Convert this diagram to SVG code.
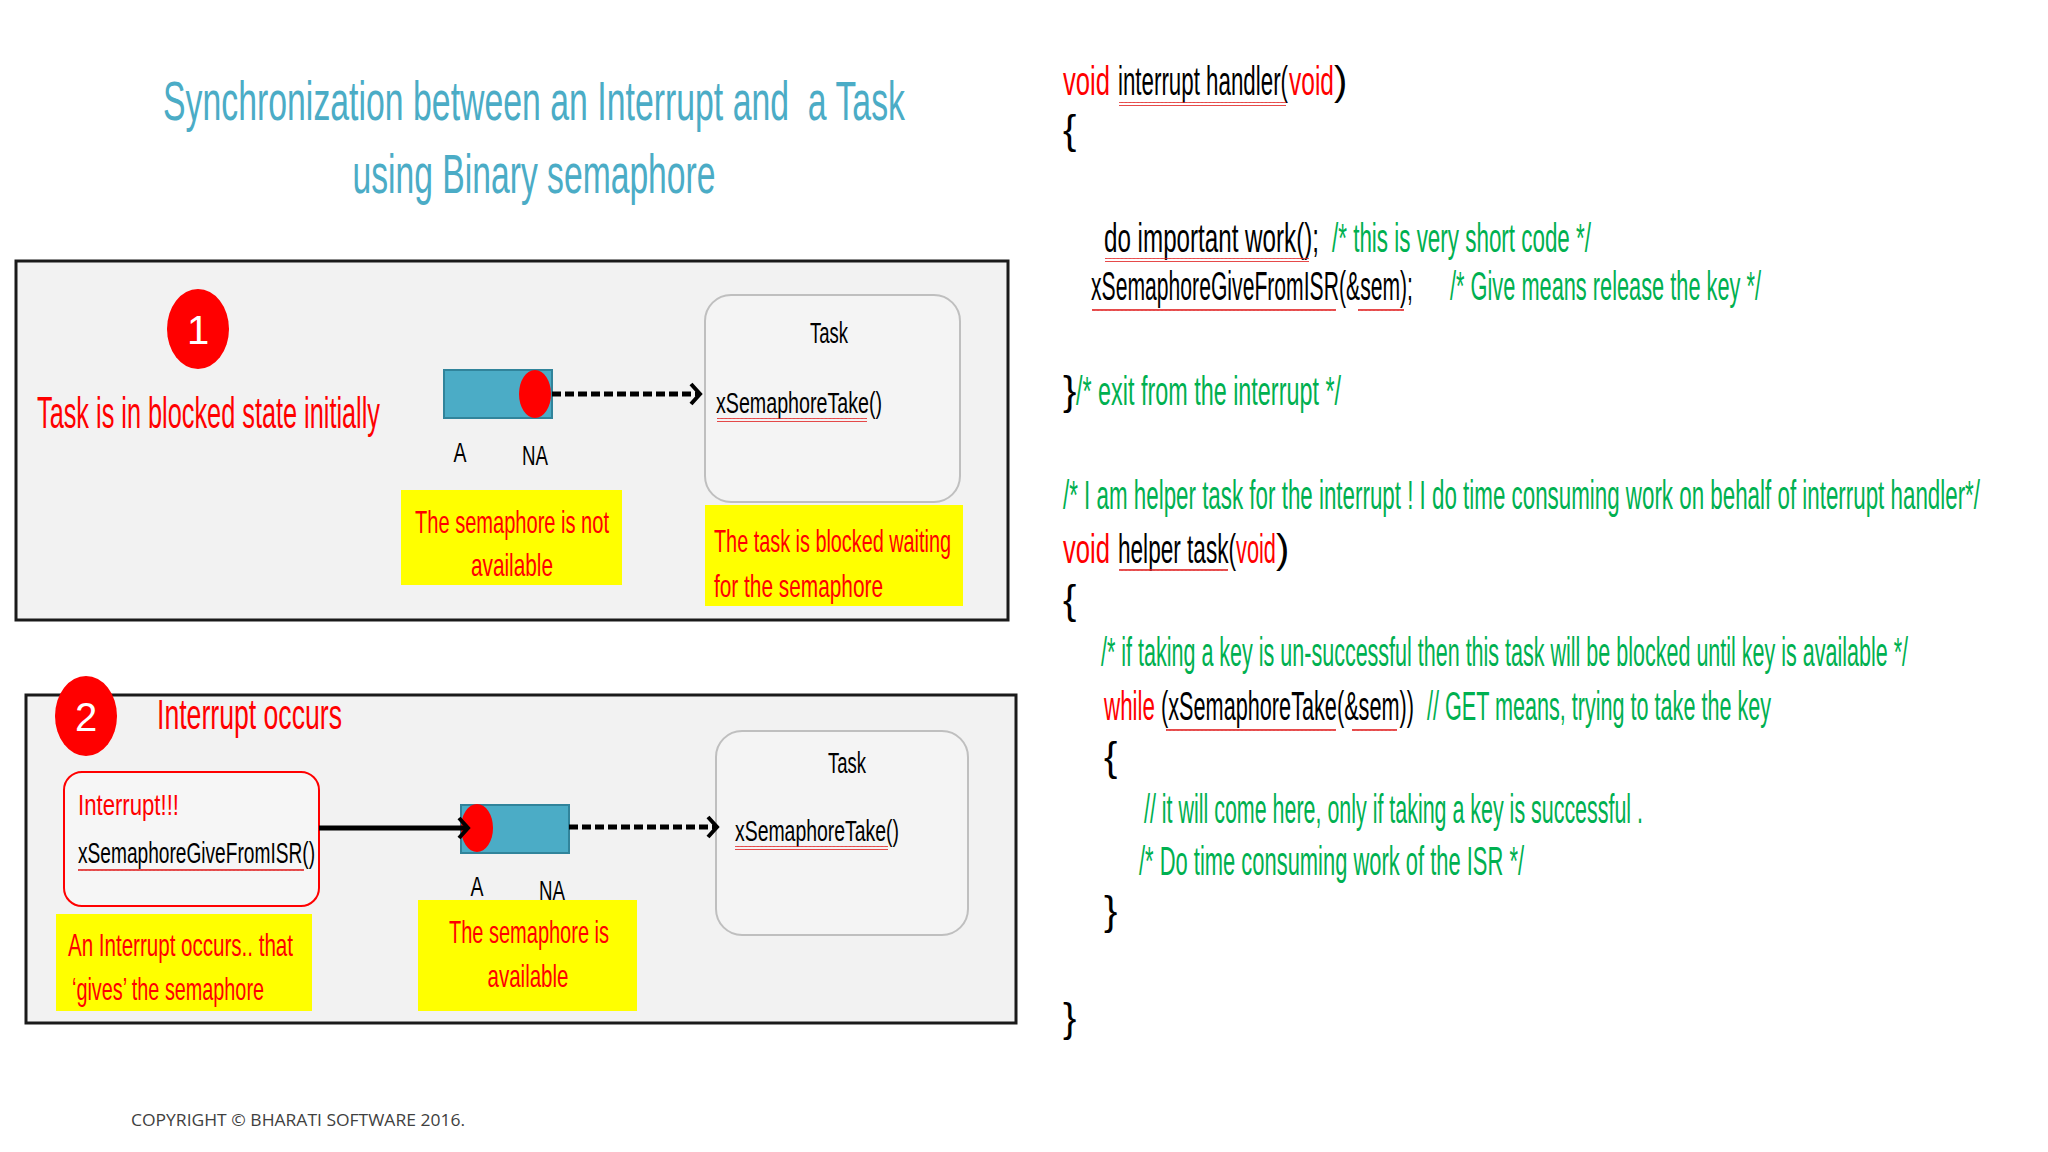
<svg xmlns="http://www.w3.org/2000/svg" width="2048" height="1152" viewBox="0 0 2048 1152">
<defs>
<style>
text{font-family:"Liberation Sans",Arial,sans-serif}
.title{fill:#4bacc6;font-size:56px}
.red{fill:#ff0000}
.blk{fill:#000}
.grn{fill:#00b050}
.code{font-size:40px}
.panel{fill:#f2f2f2;stroke:#1a1a1a;stroke-width:3}
.taskbox{fill:#f4f4f4;stroke:#bfbfbf;stroke-width:2}
.yel{fill:#ffff00}
.sem{fill:#4bacc6;stroke:#31849b;stroke-width:2}
.dot{fill:#ff0000}
.lbl{font-size:28px}
.ytxt{fill:#ff0000;font-size:32px}
.dash{stroke:#000;stroke-width:5;stroke-dasharray:9 4;fill:none}
.solid{stroke:#000;stroke-width:5;fill:none}
</style>
<pattern id="sq" width="4" height="4" patternUnits="userSpaceOnUse">
<polyline points="0,3 1,1 2,3 3,1 4,3" fill="none" stroke="#e02020" stroke-width="1"/>
</pattern>
<marker id="chev" viewBox="0 0 14 24" refX="11" refY="12" markerWidth="14" markerHeight="24" orient="auto" markerUnits="userSpaceOnUse">
<path d="M2,2 L11,12 L2,22" fill="none" stroke="#000" stroke-width="4"/>
</marker>
</defs>
<rect width="2048" height="1152" fill="#ffffff"/>

<g id="title">
<text class="title" x="534" y="120" text-anchor="middle" textLength="742" lengthAdjust="spacingAndGlyphs" xml:space="preserve">Synchronization between an Interrupt and  a Task</text>
<text class="title" x="534" y="193" text-anchor="middle" textLength="363" lengthAdjust="spacingAndGlyphs">using Binary semaphore</text>
</g>

<g id="panel1">
<rect class="panel" x="16" y="261" width="992" height="359"/>
<g id="step1">
<ellipse cx="198" cy="329" rx="31" ry="40" fill="#ff0000"/>
<text x="198" y="344" text-anchor="middle" fill="#fff" font-size="40">1</text>
</g>
<text class="red" x="37" y="428" font-size="44" textLength="343" lengthAdjust="spacingAndGlyphs">Task is in blocked state initially</text>
<g id="sem1">
<rect class="sem" x="444" y="370" width="108" height="48"/>
<ellipse class="dot" cx="535" cy="394" rx="16" ry="24"/>
<text class="lbl" x="460" y="462" text-anchor="middle" textLength="13" lengthAdjust="spacingAndGlyphs">A</text>
<text class="lbl" x="535" y="465" text-anchor="middle" textLength="26" lengthAdjust="spacingAndGlyphs">NA</text>
</g>
<g id="note1">
<rect class="yel" x="401" y="490" width="221" height="95"/>
<text class="ytxt" x="512" y="533" text-anchor="middle" textLength="194" lengthAdjust="spacingAndGlyphs">The semaphore is not</text>
<text class="ytxt" x="512" y="576" text-anchor="middle" textLength="82" lengthAdjust="spacingAndGlyphs">available</text>
</g>
<g id="task1">
<rect class="taskbox" x="705" y="295" width="255" height="207" rx="26"/>
<text x="829" y="343" text-anchor="middle" font-size="30" textLength="38" lengthAdjust="spacingAndGlyphs">Task</text>
<text x="716" y="413" font-size="30" textLength="166" lengthAdjust="spacingAndGlyphs">xSemaphoreTake()</text>
<rect x="717" y="418" width="150" height="4" fill="url(#sq)"/>
</g>
<g id="note2">
<rect class="yel" x="705" y="505" width="258" height="101"/>
<text class="ytxt" x="714" y="552" textLength="237" lengthAdjust="spacingAndGlyphs">The task is blocked waiting</text>
<text class="ytxt" x="714" y="597" textLength="169" lengthAdjust="spacingAndGlyphs">for the semaphore</text>
</g>
</g>

<g id="panel2">
<rect class="panel" x="26" y="695" width="990" height="328"/>
<g id="step2">
<ellipse cx="86" cy="716" rx="31" ry="40" fill="#ff0000"/>
<text x="86" y="731" text-anchor="middle" fill="#fff" font-size="40">2</text>
</g>
<text class="red" x="157" y="729" font-size="42" textLength="185" lengthAdjust="spacingAndGlyphs">Interrupt occurs</text>
<g id="isr">
<rect x="64" y="772" width="255" height="134" rx="18" fill="#f6f6f6" stroke="#ff0000" stroke-width="2"/>
<text class="red" x="78" y="815" font-size="30" textLength="101" lengthAdjust="spacingAndGlyphs">Interrupt!!!</text>
<text x="78" y="863" font-size="30" textLength="237" lengthAdjust="spacingAndGlyphs">xSemaphoreGiveFromISR()</text>
<rect x="78" y="868" width="226" height="4" fill="url(#sq)"/>
</g>
<g id="note3">
<rect class="yel" x="56" y="914" width="256" height="97"/>
<text class="ytxt" x="68" y="956" textLength="225" lengthAdjust="spacingAndGlyphs">An Interrupt occurs.. that</text>
<text class="ytxt" x="72" y="1000" textLength="192" lengthAdjust="spacingAndGlyphs">‘gives’ the semaphore</text>
</g>
<g id="sem2">
<rect class="sem" x="461" y="805" width="108" height="48"/>
<ellipse class="dot" cx="477" cy="828" rx="16" ry="24"/>
<text class="lbl" x="477" y="896" text-anchor="middle" textLength="13" lengthAdjust="spacingAndGlyphs">A</text>
<text class="lbl" x="552" y="900" text-anchor="middle" textLength="26" lengthAdjust="spacingAndGlyphs">NA</text>
</g>
<g id="note4">
<rect class="yel" x="418" y="900" width="219" height="111"/>
<text class="ytxt" x="529" y="943" text-anchor="middle" textLength="160" lengthAdjust="spacingAndGlyphs">The semaphore is</text>
<text class="ytxt" x="528" y="987" text-anchor="middle" textLength="81" lengthAdjust="spacingAndGlyphs">available</text>
</g>
<g id="task2">
<rect class="taskbox" x="716" y="731" width="252" height="204" rx="26"/>
<text x="847" y="773" text-anchor="middle" font-size="30" textLength="38" lengthAdjust="spacingAndGlyphs">Task</text>
<text x="735" y="841" font-size="30" textLength="164" lengthAdjust="spacingAndGlyphs">xSemaphoreTake()</text>
<rect x="735" y="846" width="153" height="4" fill="url(#sq)"/>
</g>
</g>

<g id="connectors">
<line class="dash" x1="552" y1="394" x2="700" y2="394" marker-end="url(#chev)"/>
<line class="solid" x1="319" y1="828" x2="468" y2="828" marker-end="url(#chev)"/>
<line class="dash" x1="569" y1="827" x2="717" y2="827" marker-end="url(#chev)"/>
</g>

<g id="code" class="code">
<text class="red" x="1063" y="95" textLength="47" lengthAdjust="spacingAndGlyphs">void</text>
<text class="blk" x="1118" y="95" textLength="170" lengthAdjust="spacingAndGlyphs">interrupt handler(</text>
<text class="red" x="1289" y="95" textLength="45" lengthAdjust="spacingAndGlyphs">void</text>
<text class="blk" x="1334" y="95">)</text>
<rect x="1119" y="102" width="167" height="4" fill="url(#sq)"/>
<text class="blk" x="1063" y="144">{</text>
<text class="blk" x="1104" y="252" textLength="215" lengthAdjust="spacingAndGlyphs">do important work();</text>
<text class="grn" x="1332" y="252" textLength="259" lengthAdjust="spacingAndGlyphs">/* this is very short code */</text>
<rect x="1105" y="258" width="204" height="4" fill="url(#sq)"/>
<text class="blk" x="1091" y="300" textLength="322" lengthAdjust="spacingAndGlyphs">xSemaphoreGiveFromISR(&amp;sem);</text>
<text class="grn" x="1450" y="300" textLength="311" lengthAdjust="spacingAndGlyphs">/* Give means release the key */</text>
<rect x="1092" y="307" width="244" height="4" fill="url(#sq)"/>
<rect x="1358" y="307" width="46" height="4" fill="url(#sq)"/>
<text class="blk" x="1063" y="405">}</text>
<text class="grn" x="1076" y="405" textLength="265" lengthAdjust="spacingAndGlyphs">/* exit from the interrupt */</text>
<text class="grn" x="1063" y="509" textLength="917" lengthAdjust="spacingAndGlyphs">/* I am helper task for the interrupt ! I do time consuming work on behalf of interrupt handler*/</text>
<text class="red" x="1063" y="563" textLength="47" lengthAdjust="spacingAndGlyphs">void</text>
<text class="blk" x="1118" y="563" textLength="118" lengthAdjust="spacingAndGlyphs">helper task(</text>
<text class="red" x="1236" y="563" textLength="40" lengthAdjust="spacingAndGlyphs">void</text>
<text class="blk" x="1276" y="563">)</text>
<rect x="1119" y="569" width="109" height="4" fill="url(#sq)"/>
<text class="blk" x="1063" y="614">{</text>
<text class="grn" x="1101" y="666" textLength="807" lengthAdjust="spacingAndGlyphs">/* if taking a key is un-successful then this task will be blocked until key is available */</text>
<text class="red" x="1104" y="720" textLength="51" lengthAdjust="spacingAndGlyphs">while</text>
<text class="blk" x="1161" y="720" textLength="253" lengthAdjust="spacingAndGlyphs">(xSemaphoreTake(&amp;sem))</text>
<text class="grn" x="1427" y="720" textLength="344" lengthAdjust="spacingAndGlyphs">// GET means, trying to take the key</text>
<rect x="1166" y="727" width="170" height="4" fill="url(#sq)"/>
<rect x="1352" y="727" width="45" height="4" fill="url(#sq)"/>
<text class="blk" x="1104" y="771">{</text>
<text class="grn" x="1144" y="823" textLength="499" lengthAdjust="spacingAndGlyphs">// it will come here, only if taking a key is successful .</text>
<text class="grn" x="1139" y="875" textLength="385" lengthAdjust="spacingAndGlyphs">/* Do time consuming work of the ISR */</text>
<text class="blk" x="1104" y="925">}</text>
<text class="blk" x="1063" y="1032">}</text>
</g>

<text x="131" y="1126" font-size="16" fill="#404040" textLength="334" lengthAdjust="spacingAndGlyphs" style="font-family:'Open Sans',sans-serif">COPYRIGHT © BHARATI SOFTWARE 2016.</text>
</svg>
